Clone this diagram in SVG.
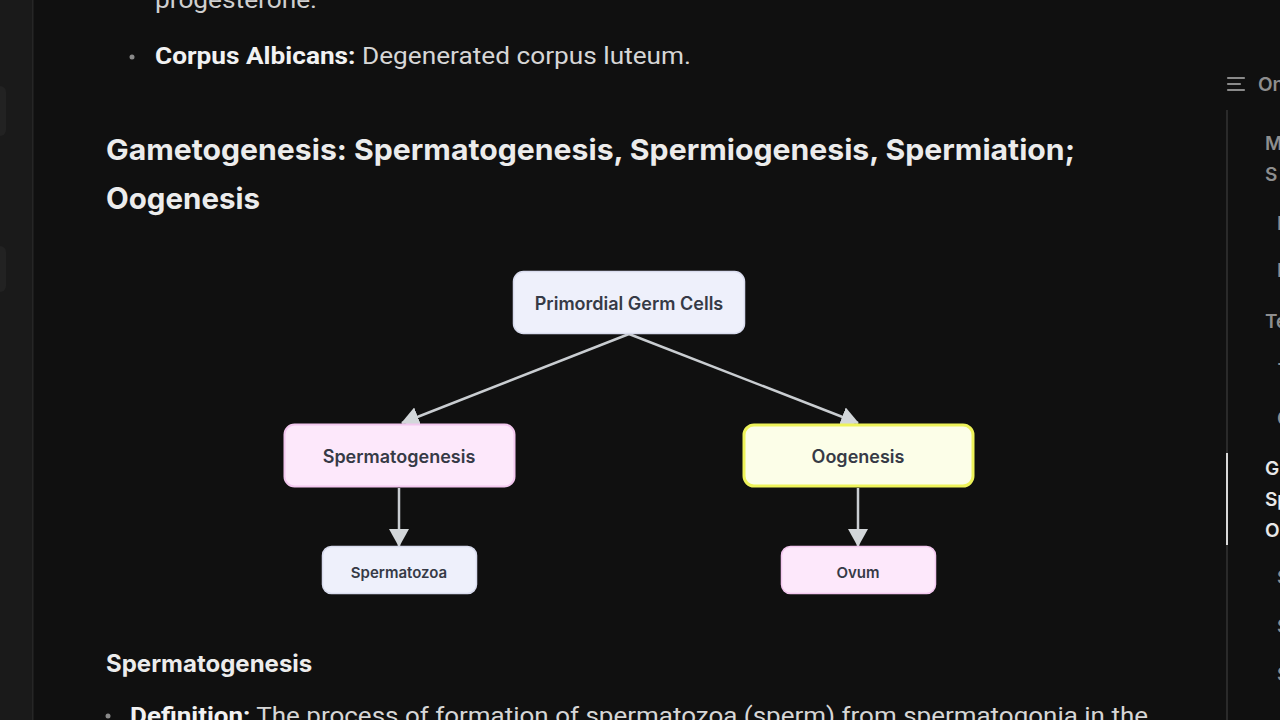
<svg xmlns="http://www.w3.org/2000/svg" width="1280" height="720" viewBox="0 0 1280 720">
<defs>
<marker id="arr" viewBox="0 0 18 20" refX="17" refY="10" markerWidth="18" markerHeight="20" markerUnits="userSpaceOnUse" orient="auto">
<path d="M0,0 L18,10 L0,20 z" fill="#d3d7da"/>
</marker>
<style>
.edge{stroke:#c9cdd1;stroke-width:2.5;fill:none;marker-end:url(#arr)}
.lbl{font-family:Inter,"Noto Sans",sans-serif;font-weight:600;fill:#363a46;text-anchor:middle;dominant-baseline:central}
.body{font-family:Roboto,"Liberation Sans",sans-serif;font-size:23px}
.head{font-family:Inter,"Noto Sans",sans-serif;font-weight:700;fill:#ececec}
.ol{font-family:Inter,"Noto Sans",sans-serif;font-size:19px;font-weight:600;fill:#8e8e8e}
.olA{font-family:Inter,"Noto Sans",sans-serif;font-size:19px;font-weight:600;fill:#e8e8e8}
</style>
</defs>
<rect x="0" y="0" width="1280" height="720" fill="#101010"/>
<!-- left sidebar -->
<rect x="0" y="0" width="32" height="720" fill="#1a1a1a"/>
<rect x="32" y="0" width="1.5" height="720" fill="#262626"/>
<rect x="-8" y="86" width="14" height="50" rx="6" fill="#222"/>
<rect x="-8" y="246" width="14" height="46" rx="6" fill="#222"/>

<!-- page text -->
<text x="155" y="8" class="body" fill="#cfcfcf" textLength="162" lengthAdjust="spacingAndGlyphs">progesterone.</text>
<circle cx="132" cy="57" r="2.5" fill="#8a8a8a"/>
<text x="155" y="64" class="body" fill="#d6d6d6" textLength="536" lengthAdjust="spacingAndGlyphs"><tspan font-weight="700" fill="#f2f2f2">Corpus Albicans:</tspan> Degenerated corpus luteum.</text>
<text x="106" y="160" class="head" font-size="29" textLength="969" lengthAdjust="spacingAndGlyphs">Gametogenesis: Spermatogenesis, Spermiogenesis, Spermiation;</text>
<text x="106" y="209" class="head" font-size="29.5">Oogenesis</text>
<text x="106" y="672" class="head" font-size="24">Spermatogenesis</text>
<circle cx="108" cy="716" r="2.5" fill="#8a8a8a"/>
<text x="130" y="724" class="body" fill="#d6d6d6" textLength="1018" lengthAdjust="spacingAndGlyphs"><tspan font-weight="700" fill="#f2f2f2">Definition:</tspan> The process of formation of spermatozoa (sperm) from spermatogonia in the</text>

<!-- right outline panel -->
<g stroke="#8a8a8a" stroke-width="2.2" stroke-linecap="round">
<line x1="1228" y1="78" x2="1244" y2="78"/>
<line x1="1228" y1="84" x2="1240" y2="84"/>
<line x1="1228" y1="90" x2="1244" y2="90"/>
</g>
<text x="1258" y="91" class="ol">On</text>
<rect x="1226" y="110" width="2" height="610" fill="#2a2a2a"/>
<rect x="1226" y="453" width="2" height="92" fill="#d8d8d8"/>
<text x="1265" y="150" class="ol">M</text>
<text x="1265" y="181" class="ol">S</text>
<text x="1277" y="230" class="ol">I</text>
<text x="1277" y="277" class="ol">I</text>
<text x="1265" y="328" class="ol">Te</text>
<text x="1277" y="370" class="ol">-</text>
<text x="1277" y="425" class="ol">C</text>
<text x="1265" y="475" class="olA">G</text>
<text x="1265" y="506" class="olA">Sp</text>
<text x="1265" y="537" class="olA">O</text>
<text x="1277" y="584" class="ol">S</text>
<text x="1277" y="633" class="ol">S</text>
<text x="1277" y="681" class="ol">S</text>

<!-- connectors -->
<g id="connectors">
<line class="edge" x1="629" y1="334" x2="402" y2="423"/>
<line class="edge" x1="629" y1="334" x2="858" y2="423"/>
<line class="edge" x1="399" y1="488" x2="399" y2="546"/>
<line class="edge" x1="858" y1="488" x2="858" y2="546"/>
</g>

<!-- nodes -->
<g id="pgc">
<rect x="513.5" y="271.5" width="231" height="62" rx="10" fill="#eef0fb" stroke="#d9dcee" stroke-width="1.5"/>
<text x="629" y="303" class="lbl" font-size="18">Primordial Germ Cells</text>
</g>
<g id="spermatogenesis">
<rect x="284.5" y="424.5" width="230" height="62" rx="10" fill="#fde8fb" stroke="#f3c8ef" stroke-width="2"/>
<text x="399" y="456" class="lbl" font-size="18">Spermatogenesis</text>
</g>
<g id="oogenesis">
<rect x="744" y="425" width="229" height="61" rx="10" fill="#fcfee8" stroke="#eef35a" stroke-width="3"/>
<text x="858" y="456" class="lbl" font-size="18">Oogenesis</text>
</g>
<g id="spermatozoa">
<rect x="322.5" y="546.5" width="154" height="47" rx="9" fill="#eef0fb" stroke="#d9dcee" stroke-width="1.5"/>
<text x="399" y="572" class="lbl" font-size="15">Spermatozoa</text>
</g>
<g id="ovum">
<rect x="781.5" y="546.5" width="154" height="47" rx="9" fill="#fde8fb" stroke="#f3c8ef" stroke-width="1.5"/>
<text x="858" y="572" class="lbl" font-size="15">Ovum</text>
</g>
</svg>
